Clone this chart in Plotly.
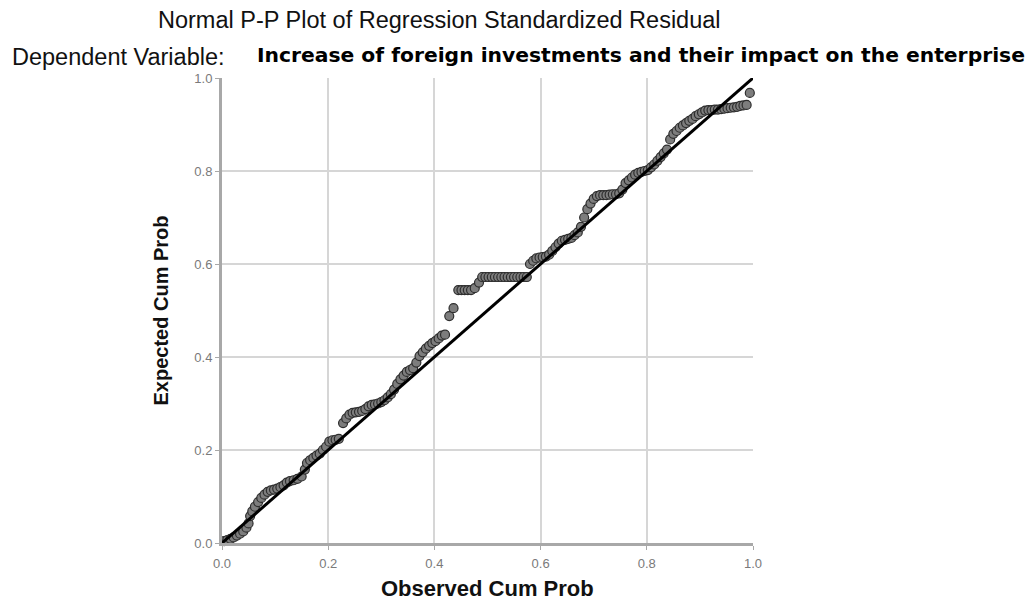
import plotly.graph_objects as go

# Observed cumulative probability of each standardized residual
observed = [
    0.004, 0.010, 0.016, 0.022, 0.028, 0.034, 0.040, 0.046, 0.050, 0.053,
    0.057, 0.062, 0.068, 0.074, 0.080, 0.086, 0.092, 0.098, 0.104, 0.110,
    0.116, 0.122, 0.128, 0.135, 0.142, 0.150, 0.156, 0.160, 0.166, 0.172,
    0.178, 0.184, 0.190, 0.196, 0.202, 0.208, 0.214, 0.220, 0.228, 0.234,
    0.240, 0.246, 0.252, 0.258, 0.264, 0.270, 0.276, 0.282, 0.288, 0.294,
    0.300, 0.306, 0.312, 0.318, 0.324, 0.330, 0.336, 0.342, 0.348, 0.354,
    0.360, 0.366, 0.372, 0.378, 0.384, 0.390, 0.396, 0.402, 0.408, 0.414,
    0.420, 0.428, 0.436, 0.445, 0.451, 0.457, 0.463, 0.469, 0.476, 0.484,
    0.490, 0.496, 0.502, 0.508, 0.514, 0.520, 0.526, 0.532, 0.538, 0.544,
    0.550, 0.556, 0.562, 0.568, 0.574, 0.580, 0.586, 0.592, 0.598, 0.604,
    0.610, 0.616, 0.622, 0.628, 0.634, 0.640, 0.646, 0.652, 0.658, 0.664,
    0.670, 0.676, 0.682, 0.688, 0.694, 0.700, 0.706, 0.712, 0.718, 0.724,
    0.730, 0.736, 0.742, 0.748, 0.754, 0.760, 0.766, 0.772, 0.778, 0.784,
    0.790, 0.796, 0.802, 0.808, 0.814, 0.820, 0.826, 0.832, 0.838, 0.844,
    0.850, 0.856, 0.862, 0.868, 0.874, 0.880, 0.886, 0.892, 0.898, 0.904,
    0.910, 0.916, 0.922, 0.928, 0.934, 0.940, 0.946, 0.952, 0.958, 0.964,
    0.970, 0.976, 0.982, 0.988, 0.994,
]

# Expected cumulative probability under the normal distribution
expected = [
    0.004, 0.006, 0.009, 0.012, 0.016, 0.020, 0.025, 0.033, 0.042, 0.058,
    0.068, 0.078, 0.088, 0.097, 0.104, 0.110, 0.113, 0.115, 0.117, 0.120,
    0.124, 0.130, 0.133, 0.135, 0.138, 0.143, 0.158, 0.172, 0.178, 0.183,
    0.188, 0.192, 0.200, 0.207, 0.218, 0.221, 0.222, 0.224, 0.258, 0.268,
    0.276, 0.280, 0.281, 0.282, 0.284, 0.288, 0.294, 0.297, 0.298, 0.300,
    0.303, 0.307, 0.313, 0.320, 0.330, 0.342, 0.352, 0.360, 0.368, 0.372,
    0.376, 0.388, 0.402, 0.410, 0.418, 0.424, 0.430, 0.434, 0.440, 0.446,
    0.448, 0.488, 0.505, 0.544, 0.544, 0.544, 0.544, 0.544, 0.548, 0.560,
    0.572, 0.572, 0.572, 0.572, 0.572, 0.572, 0.572, 0.572, 0.572, 0.572,
    0.572, 0.572, 0.572, 0.572, 0.572, 0.600, 0.607, 0.612, 0.614, 0.615,
    0.616, 0.620, 0.628, 0.636, 0.644, 0.650, 0.652, 0.654, 0.656, 0.662,
    0.668, 0.680, 0.700, 0.718, 0.730, 0.740, 0.746, 0.748, 0.748, 0.748,
    0.749, 0.750, 0.750, 0.752, 0.760, 0.774, 0.780, 0.786, 0.792, 0.796,
    0.798, 0.800, 0.802, 0.808, 0.814, 0.822, 0.830, 0.838, 0.846, 0.868,
    0.880, 0.886, 0.893, 0.898, 0.903, 0.908, 0.912, 0.918, 0.922, 0.926,
    0.930, 0.931, 0.931, 0.932, 0.932, 0.933, 0.934, 0.935, 0.936, 0.937,
    0.938, 0.940, 0.941, 0.942, 0.968,
]

# Reference line of a perfectly normal distribution
ref_line = [0.0, 1.0]

tick_vals = [0.0, 0.2, 0.4, 0.6, 0.8, 1.0]
tick_text = ["0.0", "0.2", "0.4", "0.6", "0.8", "1.0"]

title_text = "Normal P-P Plot of Regression Standardized Residual"
dep_label = "Dependent Variable:"
dep_name = "Increase of foreign investments and their impact on the enterprise"
x_title = "Observed Cum Prob"
y_title = "Expected Cum Prob"

fig = go.Figure()

fig.add_trace(go.Scatter(
    x=observed, y=expected, mode="markers",
    marker=dict(size=9, color="#7d7d7d", line=dict(color="#2e2e2e", width=1.2)),
    cliponaxis=False, showlegend=False, hoverinfo="skip",
))

fig.add_trace(go.Scatter(
    x=ref_line, y=ref_line, mode="lines",
    line=dict(color="#000000", width=3),
    cliponaxis=False, showlegend=False, hoverinfo="skip",
))

axis_common = dict(
    range=[0, 1], tickvals=tick_vals, ticktext=tick_text,
    showgrid=True, gridcolor="#d6d6d6", gridwidth=2,
    showline=True, linecolor="#a8a8a8", linewidth=3,
    ticks="outside", ticklen=4, tickcolor="#a8a8a8", tickwidth=1,
    tickfont=dict(family="Liberation Sans, Arial, sans-serif", size=13, color="#7a7a7a"),
    zeroline=False, fixedrange=True,
)

fig.update_layout(
    width=1034, height=602,
    margin=dict(l=222, r=281, t=78, b=59),
    paper_bgcolor="white", plot_bgcolor="white",
    xaxis=dict(**axis_common, ticklabelstandoff=2),
    yaxis=dict(**axis_common),
    font=dict(family="Liberation Sans, Arial, sans-serif", color="#000000"),
    annotations=[
        dict(text=title_text, xref="paper", yref="paper", x=0.410, y=1.0,
             yshift=58, showarrow=False, xanchor="center", yanchor="middle",
             font=dict(size=23.5, color="#111111")),
        dict(text=dep_label, xref="paper", yref="paper", x=-0.40, y=1.0,
             yshift=21, showarrow=False, xanchor="left", yanchor="middle",
             font=dict(size=23.5, color="#111111")),
        dict(text="<b>" + dep_name + "</b>", xref="paper", yref="paper", x=0.062, y=1.0,
             yshift=23, showarrow=False, xanchor="left", yanchor="middle",
             font=dict(family="DejaVu Sans, sans-serif", size=20.3, color="#000000")),
        dict(text="<b>" + x_title + "</b>", xref="paper", yref="paper", x=0.5, y=0.0,
             yshift=-45, showarrow=False, xanchor="center", yanchor="middle",
             font=dict(size=22, color="#111111")),
        dict(text="<b>" + y_title + "</b>", xref="paper", yref="paper", x=0.0, y=0.5,
             xshift=-62, showarrow=False, xanchor="center", yanchor="middle",
             textangle=-90, font=dict(size=20, color="#111111")),
    ],
)

fig.write_html("out.html")
